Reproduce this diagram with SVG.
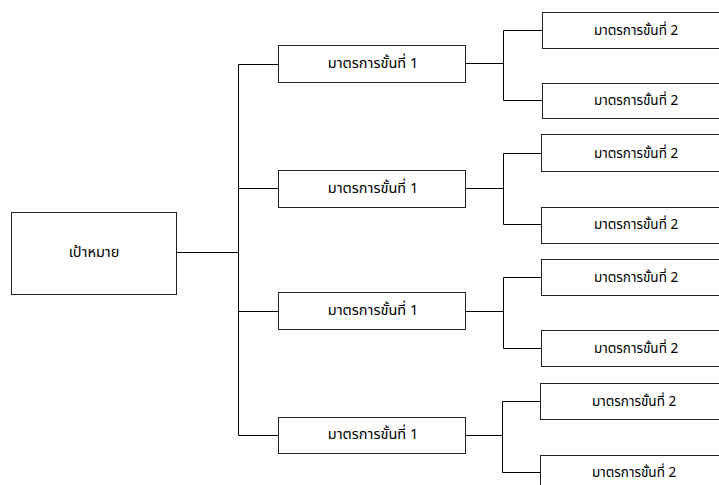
<svg xmlns="http://www.w3.org/2000/svg" width="719" height="485" viewBox="0 0 719 485">
<style>
.box{fill:#fff;stroke:#222;stroke-width:1}
.t{font-family:"Noto Sans Thai","Loma","Tahoma","DejaVu Sans","Liberation Sans",sans-serif;font-size:14.5px;fill:#000;text-anchor:middle;dominant-baseline:central}
.t2{font-size:13.5px}
.c{fill:none;stroke:#000;stroke-width:1}
</style>
<rect width="719" height="485" fill="#fff"/>
<g id="connectors">
<path class="c" d="M176.5,252.5H238.5M238.5,64.5V435.5M238.5,64.5H278.5M238.5,188.5H278.5M238.5,311.5H278.5M238.5,435.5H278.5"/>
<path class="c" d="M465.5,63.5H503.5M503.5,30.5V100.5M503.5,30.5H542M503.5,100.5H542"/>
<path class="c" d="M465.5,188.5H503.5M503.5,153.5V224.5M503.5,153.5H541M503.5,224.5H541"/>
<path class="c" d="M465.5,311.5H503.5M503.5,277.5V348.5M503.5,277.5H541M503.5,348.5H541"/>
<path class="c" d="M465.5,435.5H502.5M502.5,401.5V472.5M502.5,401.5H540M502.5,472.5H540"/>
</g>
<g id="root"><rect class="box" x="11.5" y="212.5" width="165" height="82"/><text class="t" x="94" y="253">เป้าหมาย</text></g>
<g id="m1a"><rect class="box" x="278.5" y="45.5" width="187" height="37"/><text class="t" x="373" y="64">มาตรการขั้นที่ 1</text></g>
<g id="m1b"><rect class="box" x="278.5" y="170.5" width="187" height="37"/><text class="t" x="373" y="189">มาตรการขั้นที่ 1</text></g>
<g id="m1c"><rect class="box" x="278.5" y="292.5" width="187" height="37"/><text class="t" x="373" y="311">มาตรการขั้นที่ 1</text></g>
<g id="m1d"><rect class="box" x="278.5" y="417.5" width="187" height="36"/><text class="t" x="373" y="435">มาตรการขั้นที่ 1</text></g>
<g id="m2a1"><rect class="box" x="542.5" y="12.5" width="200" height="36"/><text class="t t2" x="636" y="31">มาตรการขั้นที่ 2</text></g>
<g id="m2a2"><rect class="box" x="542.5" y="83.5" width="200" height="35"/><text class="t t2" x="636" y="101">มาตรการขั้นที่ 2</text></g>
<g id="m2b1"><rect class="box" x="541.5" y="134.5" width="200" height="37"/><text class="t t2" x="636" y="154">มาตรการขั้นที่ 2</text></g>
<g id="m2b2"><rect class="box" x="541.5" y="207.5" width="200" height="36"/><text class="t t2" x="636" y="225">มาตรการขั้นที่ 2</text></g>
<g id="m2c1"><rect class="box" x="541.5" y="259.5" width="200" height="36"/><text class="t t2" x="636" y="278">มาตรการขั้นที่ 2</text></g>
<g id="m2c2"><rect class="box" x="541.5" y="330.5" width="200" height="36"/><text class="t t2" x="636" y="349">มาตรการขั้นที่ 2</text></g>
<g id="m2d1"><rect class="box" x="540.5" y="383.5" width="200" height="36"/><text class="t t2" x="634" y="402">มาตรการขั้นที่ 2</text></g>
<g id="m2d2"><rect class="box" x="540.5" y="455.5" width="200" height="40"/><text class="t t2" x="634" y="473">มาตรการขั้นที่ 2</text></g>
</svg>
